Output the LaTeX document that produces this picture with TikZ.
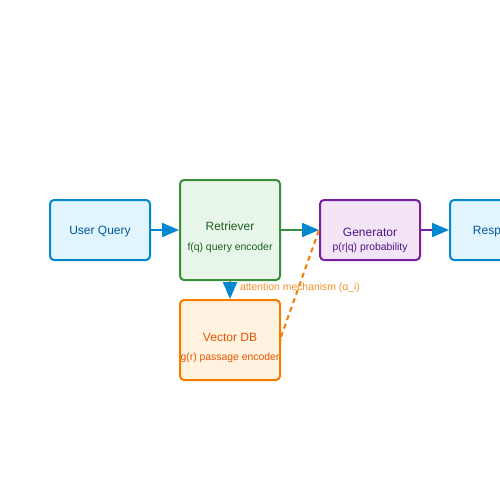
\documentclass[tikz,border=0pt]{standalone}
\usepackage{fontspec}
\setmainfont{Liberation Sans}
\usetikzlibrary{arrows.meta}
\definecolor{bluefill}{HTML}{E1F5FE}
\definecolor{bluedraw}{HTML}{0288D1}
\definecolor{bluetext}{HTML}{01579B}
\definecolor{greenfill}{HTML}{E8F5E9}
\definecolor{greendraw}{HTML}{388E3C}
\definecolor{greentext}{HTML}{1B5E20}
\definecolor{purplefill}{HTML}{F3E5F5}
\definecolor{purpledraw}{HTML}{7B1FA2}
\definecolor{purpletext}{HTML}{4A148C}
\definecolor{orangefill}{HTML}{FFF3E0}
\definecolor{orangedraw}{HTML}{F57C00}
\definecolor{orangetext}{HTML}{E65100}
\definecolor{arrowblue}{HTML}{0288D1}
\tikzset{
  boxnode/.style={draw, line width=2pt, rounded corners=4pt, minimum width=100pt, inner sep=0pt},
  maintext/.style={font=\fontsize{12}{14}\selectfont, inner sep=0pt},
  subtext/.style={font=\fontsize{10.4}{12}\selectfont, inner sep=0pt},
  conn/.style={line width=2pt, -{Triangle[length=17pt,width=14pt,color=arrowblue]}},
}
\begin{document}
\begin{tikzpicture}[x=1pt,y=-1pt]
\useasboundingbox (0,0) rectangle (500,500);
\clip (0,0) rectangle (500,500);
\fill[white] (0,0) rectangle (500,500);
% boxes
\node[boxnode, fill=bluefill, draw=bluedraw, minimum height=60pt] (uq) at (100,230) {};
\node[boxnode, fill=greenfill, draw=greendraw, minimum height=100pt] (ret) at (230,230) {};
\node[boxnode, fill=purplefill, draw=purpledraw, minimum height=60pt] (gen) at (370,230) {};
\node[boxnode, fill=bluefill, draw=bluedraw, minimum height=60pt] (resp) at (500,230) {};
\node[boxnode, fill=orangefill, draw=orangedraw, minimum height=80pt] (vdb) at (230,340) {};
% texts
\node[maintext, text=bluetext] (uqT) at (100,232) {User Query};
\node[maintext, text=greentext] (retT) at (230,226) {Retriever};
\node[subtext, text=greentext] (retS) at (230,248) {f(q) query encoder};
\node[maintext, text=purpletext] (genT) at (370,232) {Generator};
\node[subtext, text=purpletext] (genS) at (370,248) {p(r|q) probability};
\node[maintext, text=bluetext] (respT) at (500,232) {Response};
\node[maintext, text=orangetext] (vdbT) at (230,337) {Vector DB};
\node[subtext, text=orangetext] (vdbS) at (230,358) {g(r) passage encoder};
% connectors
\draw[conn, draw=bluedraw] (uq.east) -- (ret.west);
\draw[conn, draw=greendraw] (ret.east) -- (gen.west);
\draw[conn, draw=purpledraw] (gen.east) -- (resp.west);
\draw[conn, draw=orangedraw] (ret.south) -- (vdb.north);
\coordinate (vdbR) at (281,337);
\draw[orangedraw, line width=2pt, dash pattern=on 5pt off 4pt] (vdbR) -- (gen.west)
  node[pos=0.5, yshift=-4pt, subtext, text=orangedraw!85!white] (attL) {attention mechanism (α\_i)};
\end{tikzpicture}
\end{document}
